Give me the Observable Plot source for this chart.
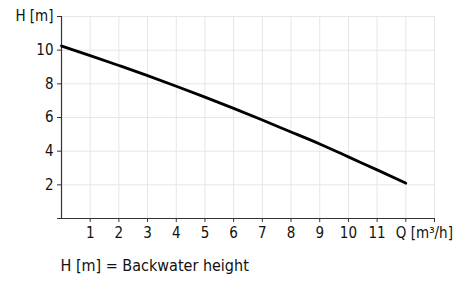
<!DOCTYPE html>
<html>
<head>
<meta charset="utf-8">
<script src="https://cdn.jsdelivr.net/npm/d3@7"></script>
<script src="https://cdn.jsdelivr.net/npm/@observablehq/plot@0.6"></script>
<style>
  html, body { margin: 0; padding: 0; background: #fff; }
  #chart svg { display: block; font-stretch: condensed; }
</style>
</head>
<body>
<div id="chart"></div>
<script>
// Flow rate Q [m³/h] and backwater height H [m]
const flow = [0, 1, 2, 3, 4, 5, 6, 7, 8, 9, 10, 11, 12];
const height = [10.25, 9.68, 9.09, 8.49, 7.86, 7.21, 6.54, 5.85, 5.14, 4.43, 3.66, 2.89, 2.1];
const xTicks = [1, 2, 3, 4, 5, 6, 7, 8, 9, 10, 11, 12, 13];
const xTickLabels = ["1", "2", "3", "4", "5", "6", "7", "8", "9", "10", "11", "", ""];
const yTicks = [0, 2, 4, 6, 8, 10, 12];
const yTickLabels = ["", "2", "4", "6", "8", "10", "H [m]"];
const xUnitLabel = "Q [m³/h]";
const caption = "H [m] = Backwater height";

const curve = flow.map((q, i) => ({q, h: height[i]}));
const font = "'DejaVu Sans Condensed', 'DejaVu Sans', sans-serif";

const plot = Plot.plot({
  width: 470,
  height: 284,
  marginLeft: 61,
  marginRight: 36,
  marginTop: 16,
  marginBottom: 66,
  style: {fontFamily: font, fontSize: "15px", color: "#111", background: "#fff"},
  x: {domain: [0, 13], axis: null, label: null},
  y: {domain: [0, 12], axis: null, label: null},
  marks: [
    Plot.gridX(d3.range(1, 14), {stroke: "#e6e6e6", strokeOpacity: 1, strokeWidth: 1}),
    Plot.gridY(d3.range(2, 13, 2), {stroke: "#e6e6e6", strokeOpacity: 1, strokeWidth: 1}),
    Plot.axisX(xTicks, {
      label: null, tickSize: 4, tickPadding: 5, stroke: "#333",
      tickFormat: (d) => xTickLabels[xTicks.indexOf(d)], fontSize: 15
    }),
    Plot.axisY(yTicks, {
      label: null, tickSize: 4, tickPadding: 4, stroke: "#333",
      tickFormat: (d) => yTickLabels[yTicks.indexOf(d)], fontSize: 15
    }),
    Plot.ruleY([0], {stroke: "#333", strokeWidth: 1.2}),
    Plot.ruleX([0], {stroke: "#333", strokeWidth: 1.2}),
    Plot.text([xUnitLabel], {
      x: 12, frameAnchor: "bottom", dy: 9, dx: -10, textAnchor: "start", lineAnchor: "top",
      fontSize: 15, fill: "#111"
    }),
    Plot.line(curve, {x: "q", y: "h", stroke: "#000", strokeWidth: 2.8, curve: "natural"}),
    Plot.text([caption], {
      frameAnchor: "bottom-left", dy: 52, dx: -1, textAnchor: "start",
      fontSize: 16, fill: "#111"
    })
  ]
});
document.getElementById("chart").append(plot);
</script>
</body>
</html>
